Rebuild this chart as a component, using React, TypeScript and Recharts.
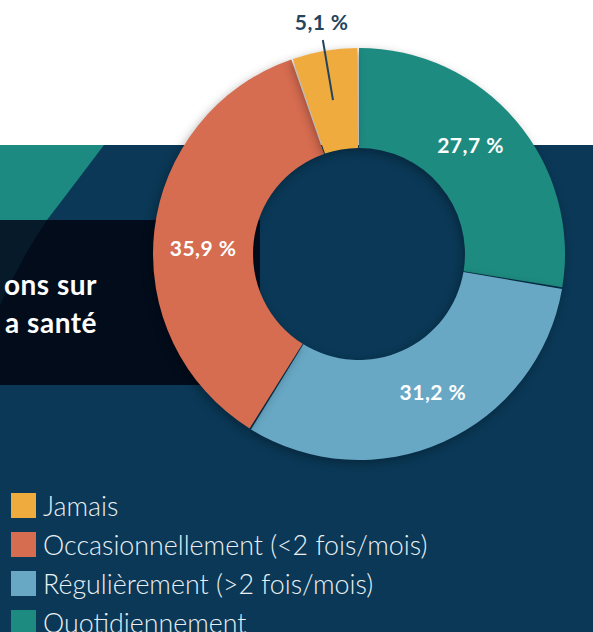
import { PieChart, Pie, Cell } from 'recharts';

// données (sens horaire depuis le haut)
const categories = [
  'Quotidiennement',
  'Régulièrement (>2 fois/mois)',
  'Occasionnellement (<2 fois/mois)',
  'Jamais',
];
const values = [27.7, 31.2, 35.9, 5.1];
const colors = ['#1e8b80', '#68a8c5', '#d66c50', '#f0ab3e'];
const legendOrder = [3, 2, 1, 0];

const NAVY = '#0a3856';
const RAD = Math.PI / 180;

const data = categories.map((name, i) => ({ name, value: values[i] }));

const fmt = (v: number) => `${v.toFixed(1).replace('.', ',')} %`;

const renderLabel = (props: any) => {
  const { cx, cy, midAngle, innerRadius, outerRadius, value } = props;
  const mid = (innerRadius + outerRadius) / 2;
  if (value < 10) {
    // petite part : étiquette à l'extérieur avec un trait
    const cos = Math.cos(-midAngle * RAD);
    const sin = Math.sin(-midAngle * RAD);
    const r1 = mid;
    const r2 = outerRadius + 11;
    const r3 = outerRadius + 30;
    return (
      <g>
        <line
          x1={cx + r1 * cos}
          y1={cy + r1 * sin}
          x2={cx + r2 * cos}
          y2={cy + r2 * sin}
          stroke="#24445e"
          strokeWidth={2}
        />
        <text
          x={cx + r3 * cos + 2}
          y={cy + r3 * sin}
          fill="#24445e"
          fontSize={21}
          fontWeight={700}
          fontFamily="Lato"
          letterSpacing={0.4}
          textAnchor="middle"
          dominantBaseline="central"
        >
          {fmt(value)}
        </text>
      </g>
    );
  }
  // les étiquettes de l'original sont légèrement décalées dans le sens anti-horaire
  const a = midAngle + 4;
  const cos = Math.cos(-a * RAD);
  const sin = Math.sin(-a * RAD);
  return (
    <text
      x={cx + mid * cos}
      y={cy + mid * sin}
      fill="#ffffff"
      fontSize={21}
      fontWeight={700}
      fontFamily="Lato"
      letterSpacing={0.5}
      textAnchor="middle"
      dominantBaseline="central"
    >
      {fmt(value)}
    </text>
  );
};

function LegendBox() {
  return (
    <div
      style={{
        position: 'absolute',
        left: 11,
        top: 486,
        fontFamily: 'Lato',
        fontWeight: 300,
      }}
    >
      {legendOrder.map((i) => (
        <div
          key={categories[i]}
          style={{ display: 'flex', alignItems: 'center', height: 39 }}
        >
          <span
            style={{
              width: 25,
              height: 25,
              background: colors[i],
              marginRight: 7,
              flexShrink: 0,
            }}
          />
          <span
            style={{ color: '#e9eff3', fontSize: 26.8, whiteSpace: 'nowrap' }}
          >
            {categories[i]}
          </span>
        </div>
      ))}
    </div>
  );
}

function Background() {
  return (
    <svg
      width={593}
      height={632}
      style={{ position: 'absolute', left: 0, top: 0 }}
    >
      <rect x={0} y={0} width={593} height={632} fill="#ffffff" />
      <rect x={0} y={145} width={593} height={487} fill={NAVY} />
      <path d="M0 145 L104 145 Q70 190 47 220 L0 220 Z" fill="#1c8a80" />
      <rect x={0} y={220} width={260} height={165} fill="#020c1b" />
      <path d="M0 220 L47 220 Q20 260 0 305 Z" fill="#071a2a" />
      <text
        x={97}
        y={284}
        fill="#ffffff"
        fontSize={28}
        fontWeight={700}
        fontFamily="Lato"
        letterSpacing={0.5}
        textAnchor="end"
        dominantBaseline="central"
      >
        ons sur
      </text>
      <text
        x={97}
        y={322}
        fill="#ffffff"
        fontSize={28}
        fontWeight={700}
        fontFamily="Lato"
        letterSpacing={0.5}
        textAnchor="end"
        dominantBaseline="central"
      >
        a santé
      </text>
    </svg>
  );
}

export default function App() {
  return (
    <div
      style={{
        position: 'absolute',
        left: 0,
        top: 0,
        width: 593,
        height: 632,
        overflow: 'hidden',
      }}
    >
      <Background />
      <div style={{ position: 'absolute', left: 0, top: 0 }}>
        <PieChart
          width={593}
          height={632}
          margin={{ top: 0, right: 0, bottom: 0, left: 0 }}
        >
          <Pie
            data={data}
            dataKey="value"
            nameKey="name"
            cx={359}
            cy={254}
            innerRadius={106}
            outerRadius={206}
            startAngle={90}
            endAngle={-270}
            paddingAngle={0.45}
            stroke="none"
            label={renderLabel}
            labelLine={false}
            isAnimationActive={false}
            style={{ filter: 'drop-shadow(-2px 3px 5px rgba(0,0,0,0.3))' }}
          >
            {data.map((d, i) => (
              <Cell key={d.name} fill={colors[i]} stroke="none" />
            ))}
          </Pie>
        </PieChart>
      </div>
      <LegendBox />
    </div>
  );
}
